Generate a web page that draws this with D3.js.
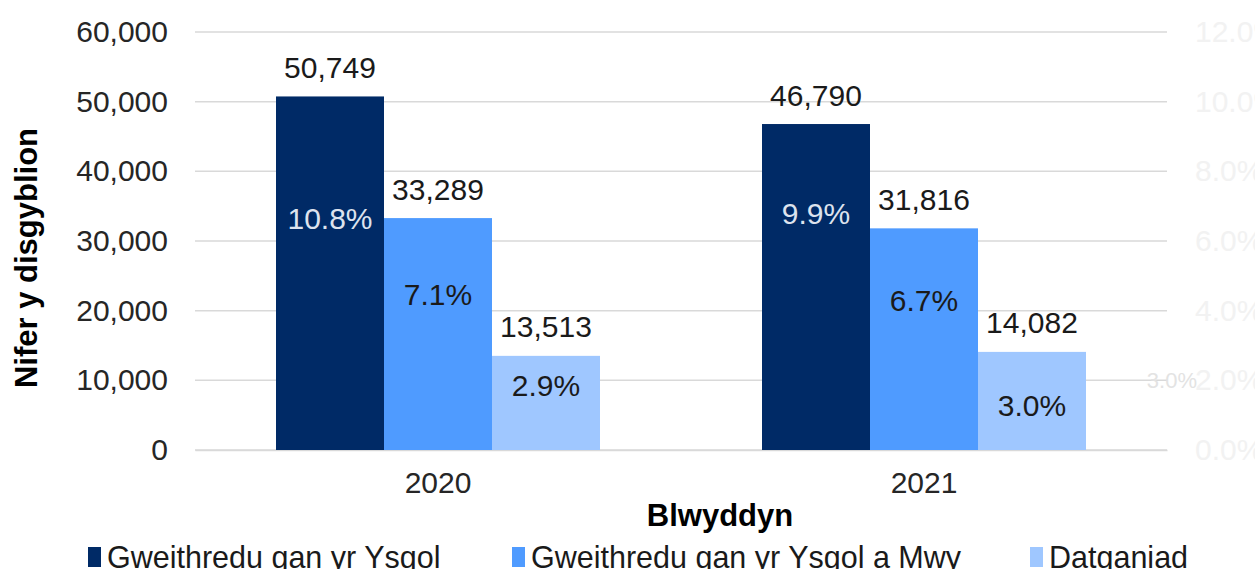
<!DOCTYPE html>
<html>
<head>
<meta charset="utf-8">
<script src="https://cdn.jsdelivr.net/npm/d3@7"></script>
<style>
  body { margin: 0; background: #fff; overflow: hidden; }
  svg text { font-family: "Liberation Sans", Arial, sans-serif; }
</style>
</head>
<body>
<div id="vis"></div>
<script>
const years = ["2020", "2021"];
const series = ["Gweithredu gan yr Ysgol", "Gweithredu gan yr Ysgol a Mwy", "Datganiad"];
const colors = ["#002a66", "#4f9bff", "#9fc7ff"];
// pupil counts, per year, per series
const counts = [
  [50749, 33289, 13513],
  [46790, 31816, 14082]
];
const pctLabels = [
  ["10.8%", "7.1%", "2.9%"],
  ["9.9%", "6.7%", "3.0%"]
];
// where each percentage label sits, in pupil units on the left axis
const pctLabelAt = [
  [33300, 22250, 9330],
  [34000, 21500, 6450]
];
const leftTicks = [0, 10000, 20000, 30000, 40000, 50000, 60000];
const rightTicks = [0, 0.02, 0.04, 0.06, 0.08, 0.10, 0.12];

const W = 1255, H = 569;
const margin = {top: 32, right: 88, bottom: 119, left: 195};
const plotRight = W - margin.right;
const plotBottom = H - margin.bottom;
const fs = '30px';

const svg = d3.select('#vis').append('svg')
    .attr('width', W)
    .attr('height', H);

const x0 = d3.scaleBand().domain(years).range([margin.left, plotRight]).padding(0);
const x1 = d3.scaleBand().domain(series).range([0, x0.bandwidth()]).paddingInner(0).paddingOuter(0.75);
const y = d3.scaleLinear().domain([0, 60000]).range([plotBottom, margin.top]);
const yR = d3.scaleLinear().domain([0, 0.12]).range([plotBottom, margin.top]);

// gridlines
svg.append('g')
    .selectAll('line')
    .data(leftTicks)
    .join('line')
    .attr('x1', margin.left)
    .attr('x2', plotRight)
    .attr('y1', d => y(d))
    .attr('y2', d => y(d))
    .attr('stroke', '#d9d9d9')
    .attr('stroke-width', 1.5);

// left axis
const yAxis = svg.append('g')
    .attr('transform', `translate(${margin.left},0)`)
    .call(d3.axisLeft(y).tickValues(leftTicks).tickFormat(d3.format(',')).tickSize(0).tickPadding(27));
yAxis.select('.domain').remove();
yAxis.selectAll('text').style('font-size', fs).attr('fill', '#262626');

// right axis, nearly invisible
const yAxisR = svg.append('g')
    .attr('transform', `translate(${plotRight},0)`)
    .call(d3.axisRight(yR).tickValues(rightTicks).tickFormat(d3.format('.1%')).tickSize(0).tickPadding(28));
yAxisR.select('.domain').remove();
yAxisR.selectAll('text').style('font-size', fs).attr('fill', '#f2f2f2');

svg.append('text')
    .attr('x', plotRight + 30)
    .attr('y', yR(0.02))
    .attr('dy', '0.35em')
    .attr('text-anchor', 'end')
    .style('font-size', '22px')
    .attr('fill', '#e3e3e3')
    .text('3.0%');

// x axis
const xAxis = svg.append('g')
    .attr('transform', `translate(0,${plotBottom})`)
    .call(d3.axisBottom(x0).tickSize(0).tickPadding(22));
xAxis.select('.domain').attr('stroke', '#d9d9d9').attr('stroke-width', 1.5);
xAxis.selectAll('text').style('font-size', fs).attr('fill', '#262626');

// bars
const groups = svg.append('g')
    .selectAll('g')
    .data(years)
    .join('g')
    .attr('transform', d => `translate(${x0(d)},0)`);

groups.selectAll('rect')
    .data((yr, i) => counts[i].map((v, j) => ({s: series[j], v, j})))
    .join('rect')
    .attr('x', d => x1(d.s))
    .attr('y', d => y(d.v))
    .attr('width', x1.bandwidth())
    .attr('height', d => plotBottom - y(d.v))
    .attr('fill', d => colors[d.j]);

groups.selectAll('text.val')
    .data((yr, i) => counts[i].map((v, j) => ({s: series[j], v, j})))
    .join('text')
    .attr('class', 'val')
    .attr('x', d => x1(d.s) + x1.bandwidth() / 2)
    .attr('y', d => y(d.v) - 29)
    .attr('dy', '0.35em')
    .attr('text-anchor', 'middle')
    .style('font-size', fs)
    .attr('fill', '#1a1a1a')
    .text(d => d3.format(',')(d.v));

groups.selectAll('text.pct')
    .data((yr, i) => pctLabels[i].map((t, j) => ({s: series[j], t, at: pctLabelAt[i][j], j})))
    .join('text')
    .attr('class', 'pct')
    .attr('x', d => x1(d.s) + x1.bandwidth() / 2)
    .attr('y', d => y(d.at))
    .attr('dy', '0.35em')
    .attr('text-anchor', 'middle')
    .style('font-size', fs)
    .attr('fill', d => d.j === 0 ? '#dde3ee' : '#1a1a1a')
    .text(d => d.t);

// axis titles
svg.append('text')
    .attr('transform', 'rotate(-90)')
    .attr('x', -(margin.top + plotBottom) / 2 - 17)
    .attr('y', 37)
    .attr('text-anchor', 'middle')
    .style('font-size', '31px')
    .style('font-weight', 'bold')
    .attr('fill', '#000')
    .text('Nifer y disgyblion');

svg.append('text')
    .attr('x', (margin.left + plotRight) / 2 + 39)
    .attr('y', 526)
    .attr('text-anchor', 'middle')
    .style('font-size', '31px')
    .style('font-weight', 'bold')
    .attr('fill', '#000')
    .text('Blwyddyn');

// legend
const legendX = [88, 512, 1030];
const legend = svg.append('g')
    .selectAll('g')
    .data(series)
    .join('g')
    .attr('transform', (d, i) => `translate(${legendX[i]},557)`);

legend.append('rect')
    .attr('x', 0)
    .attr('y', -10)
    .attr('width', 13)
    .attr('height', 20)
    .attr('fill', (d, i) => colors[i]);

legend.append('text')
    .attr('x', 19)
    .attr('y', 0)
    .attr('dy', '0.35em')
    .style('font-size', '30.5px')
    .attr('fill', '#1a1a1a')
    .text(d => d);
</script>
</body>
</html>
